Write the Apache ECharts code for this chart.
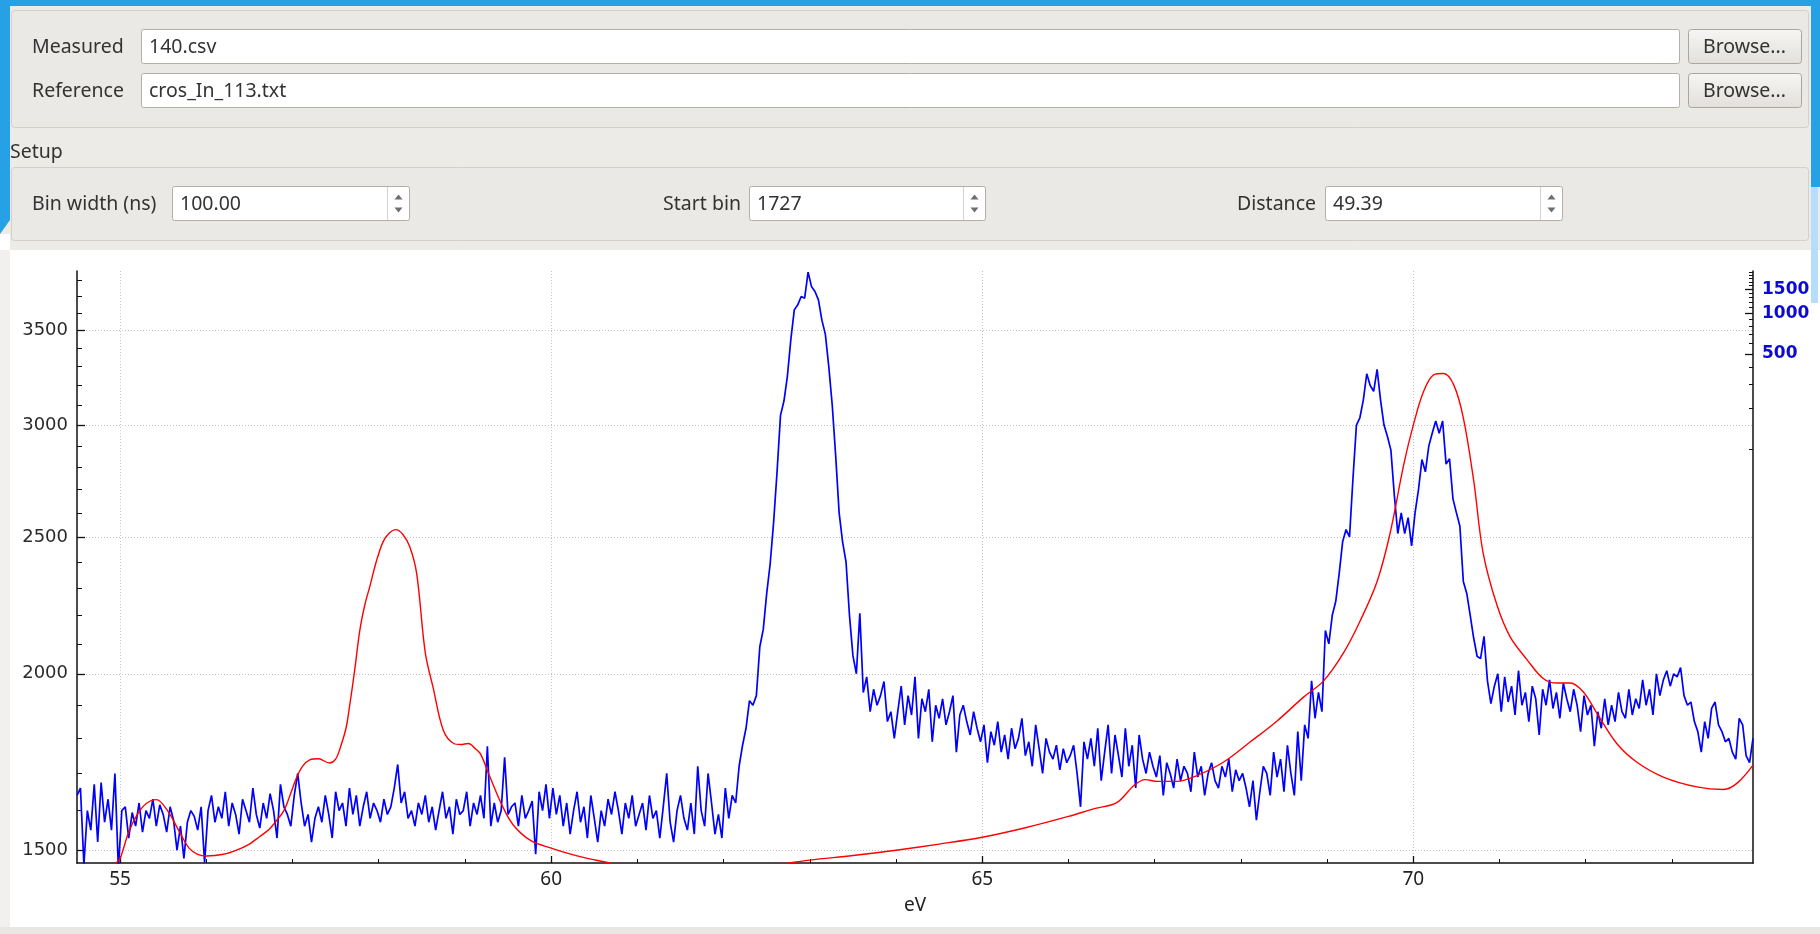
<!DOCTYPE html>
<html><head><meta charset="utf-8">
<script src="https://cdn.jsdelivr.net/npm/echarts@6/dist/echarts.min.js"></script>
<style>html,body{margin:0;padding:0;background:#ffffff;overflow:hidden;} #c{width:1820px;height:934px;}</style>
</head><body><div id="c"></div>
<script>
// ---------- DATA ----------
const blueStartEv = 54.50;
const blueStepEv = 0.04;
const blueCounts = [
1640,1660,1465,1600,1550,1670,1520,1675,1570,1630,1550,1700,1455,
1600,1610,1530,1595,1560,1620,1545,1600,1580,1630,1560,1615,1590,1545,1610,1575,1500,1560,1480,1570,1600,1585,1550,1610,1470,
1600,1640,1570,1610,1580,1650,1560,1620,1590,1540,1630,1600,1570,1660,1590,1555,1620,1580,1645,1600,1530,1670,1610,1590,1560,
1640,1700,1620,1560,1590,1520,1580,1610,1570,1640,1590,1530,1650,1600,1620,1560,1660,1590,1640,1560,1610,1650,1580,1620,1600,
1570,1630,1590,1610,1660,1725,1620,1650,1580,1600,1560,1620,1590,1640,1570,1610,1550,1600,1650,1580,1610,1540,1630,1590,1600,
1650,1560,1620,1590,1640,1580,1777,1560,1620,1570,1600,1745,1590,1610,1620,1560,1640,1580,1600,1625,1490,1650,1600,1670,1580,
1660,1590,1640,1560,1620,1540,1600,1650,1570,1610,1530,1640,1580,1520,1600,1560,1630,1590,1650,1600,1540,1620,1580,1640,1560,
1590,1620,1550,1640,1580,1600,1530,1610,1700,1570,1520,1600,1640,1580,1550,1620,1540,1720,1600,1560,1700,1620,1540,1590,1530,
1660,1580,1640,1620,1720,1780,1830,1914,1900,1930,2090,2150,2280,2392,2560,2780,3048,3120,3250,3450,3620,3650,3700,3690,3850,
3760,3730,3680,3560,3480,3300,3100,2854,2600,2480,2400,2200,2060,2000,2207,1940,1990,1880,1950,1900,1930,1975,1850,1880,1800,
1880,1960,1840,1930,1870,1990,1800,1920,1880,1950,1790,1900,1860,1920,1840,1880,1930,1760,1870,1900,1850,1810,1880,1830,1790,
1840,1730,1820,1780,1850,1760,1810,1740,1830,1770,1800,1860,1750,1790,1720,1840,1770,1700,1800,1760,1740,1780,1710,1770,1730,
1750,1780,1700,1610,1790,1740,1800,1720,1830,1680,1760,1840,1700,1810,1750,1690,1830,1720,1780,1660,1810,1740,1700,1760,1720,
1690,1750,1640,1730,1700,1660,1740,1680,1720,1700,1650,1760,1690,1720,1640,1700,1730,1680,1660,1720,1690,1740,1650,1710,1680,
1700,1660,1610,1680,1575,1650,1720,1700,1640,1760,1690,1740,1650,1780,1700,1640,1820,1680,1840,1800,1977,1860,1940,1880,2146,
2100,2200,2250,2355,2480,2530,2500,2750,3000,3036,3125,3262,3200,3170,3285,3125,3000,2945,2880,2675,2514,2600,2514,2580,2464,
2600,2700,2836,2780,2900,2962,3020,2960,3020,2815,2840,2660,2600,2545,2325,2280,2200,2120,2058,2050,2126,1977,1905,1960,2000,
1880,1990,1910,1960,1870,2010,1900,1940,1850,1960,1920,1810,1950,1900,1980,1890,1940,1860,1970,1920,1880,1950,1900,1820,1930,
1870,1900,1777,1880,1830,1920,1840,1900,1850,1940,1880,1860,1950,1870,1920,1890,1980,1900,1950,1870,2000,1930,1980,2010,1960,
2000,1990,2020,1930,1900,1910,1850,1820,1760,1850,1800,1890,1910,1840,1820,1790,1800,1760,1740,1860,1840,1750,1730,1800
];
const redEnergy = [54.85,54.95,55.0,55.1,55.2,55.3,55.42,55.55,55.69,55.8,55.9,56.0,56.2,56.35,56.5,56.62,56.72,56.81,56.9,56.97,57.05,57.12,57.2,57.3,57.43,57.5,57.55,57.62,57.66,57.72,57.78,57.84,57.9,57.97,58.05,58.12,58.2,58.28,58.36,58.44,58.54,58.63,58.75,58.87,58.95,59.04,59.12,59.18,59.29,59.43,59.56,59.76,60.0,60.3,60.68,61.0,61.5,62.0,62.31,62.7,63.0,63.5,64.0,64.5,65.0,65.5,66.0,66.3,66.56,66.76,66.89,67.03,67.26,67.49,67.8,68.11,68.42,68.73,68.96,69.19,69.38,69.58,69.73,69.89,70.0,70.12,70.24,70.35,70.47,70.58,70.7,70.81,70.97,71.12,71.32,71.51,71.67,71.82,71.97,72.13,72.36,72.59,72.9,73.29,73.6,73.76,73.94];
const redCounts = [1440,1468,1480,1545,1590,1618,1629,1600,1545,1505,1490,1486,1490,1500,1515,1534,1550,1573,1600,1640,1690,1721,1738,1741,1729,1740,1770,1830,1894,2010,2146,2240,2310,2400,2480,2515,2530,2510,2460,2355,2069,1956,1823,1785,1782,1785,1770,1755,1690,1614,1563,1524,1505,1486,1469,1455,1445,1450,1458,1467,1476,1487,1500,1515,1532,1556,1585,1605,1621,1667,1683,1678,1678,1694,1732,1790,1852,1926,1977,2069,2178,2325,2514,2815,3000,3170,3257,3263,3202,3036,2741,2435,2237,2126,2046,1984,1970,1970,1942,1875,1785,1732,1690,1663,1656,1674,1723];
const xLabelValues = [55, 60, 65, 70];
const xMinorTicks = [56,57,58,59,61,62,63,64,66,67,68,69,71,72,73];
const leftLabelValues = [1500, 2000, 2500, 3000, 3500];
const leftMinorTicks = [1600,1700,1800,1900,2100,2200,2300,2400,2600,2700,2800,2900,3100,3200,3300,3400,3600,3700,3800];
const rightLabelValues = [500, 1000, 1500];
const rightMinorTicks = [100,200,300,400,600,700,800,900,1100,1200,1300,1400,1600,1700,1800,1900,2000];
const fieldMeasured = '140.csv';
const fieldReference = 'cros_In_113.txt';
const binWidth = '100.00';
const startBin = '1727';
const distance = '49.39';

// ---------- BUILD ----------
const blueData = blueCounts.map((v, i) => [+(blueStartEv + i * blueStepEv).toFixed(2), v]);
const redData = redEnergy.map((e, i) => [e, redCounts[i]]);
const plainNum = v => String(Math.round(v));

const UIF = '"Noto Sans", "Open Sans", sans-serif';
const uiText = '#333333';
const g = [];
function rect(x, y, w, h, fill, stroke, r, z) {
  g.push({type: 'rect', z: z || 0, silent: true, shape: {x, y, width: w, height: h, r: r || 0},
    style: {fill: fill, stroke: stroke || null, lineWidth: 1}});
}
function text(x, y, s, opts) {
  g.push({type: 'text', z: 5, silent: true, x, y,
    style: Object.assign({text: s, fill: uiText, font: '19.5px ' + UIF, verticalAlign: 'middle', align: 'left'}, opts || {})});
}
function tri(cx, cy, up) {
  const pts = up ? [[cx - 4, cy + 2.5], [cx + 4, cy + 2.5], [cx, cy - 2.5]] : [[cx - 4, cy - 2.5], [cx + 4, cy - 2.5], [cx, cy + 2.5]];
  g.push({type: 'polygon', z: 6, silent: true, shape: {points: pts}, style: {fill: '#6e6e6e'}});
}
function spin(x, y, w, h, val) {
  rect(x + 0.5, y + 0.5, w, h, '#ffffff', '#b3aea6', 2, 2);
  g.push({type: 'line', z: 3, silent: true, shape: {x1: x + w - 21.5, y1: y + 1, x2: x + w - 21.5, y2: y + h}, style: {stroke: '#d6d2cc', lineWidth: 1}});
  tri(x + w - 10.5, y + 11, true);
  tri(x + w - 10.5, y + h - 10, false);
  text(x + 8, y + h / 2 + 1, val);
}
function button(x, y, w, h, label) {
  g.push({type: 'rect', z: 2, silent: true, shape: {x: x + 0.5, y: y + 0.5, width: w, height: h, r: 3},
    style: {fill: new echarts.graphic.LinearGradient(0, 0, 0, 1, [{offset: 0, color: '#f7f6f4'}, {offset: 1, color: '#e2dfdb'}]), stroke: '#aaa59e', lineWidth: 1}});
  text(x + w / 2, y + h / 2 + 1, label, {align: 'center'});
}
// window panel + frame
rect(0, 0, 1820, 250, '#ecebe8', null, 0, -5);
rect(0, 250, 10, 684, '#f1f0ee', null, 0, -5);
rect(0, 927, 1820, 7, '#e9e7e4', null, 0, -5);
rect(0, 0, 1820, 6, '#27a1e6', null, 0, -4);
g.push({type: 'polygon', z: -4, silent: true, shape: {points: [[0, 0], [10, 0], [10, 220], [0, 234]]}, style: {fill: '#27a1e6'}});
rect(0, 234, 10, 16, '#ffffff', null, 0, -4);
rect(1811, 0, 9, 187, '#27a1e6', null, 0, -4);
rect(1811, 187, 7, 116, '#b6defa', null, 0, -4);
// group boxes
rect(11.5, 10.5, 1797, 117, '#ebe9e5', '#d3cfc9', 3, 0);
rect(11.5, 167.5, 1797, 73, '#ebe9e5', '#d3cfc9', 3, 0);
// row 1
text(32, 47, 'Measured');
rect(141.5, 29.5, 1538, 34, '#ffffff', '#b3aea6', 2, 2);
text(149, 47, fieldMeasured);
button(1688, 29, 113, 34, 'Browse...');
// row 2
text(32, 91, 'Reference');
rect(141.5, 73.5, 1538, 34, '#ffffff', '#b3aea6', 2, 2);
text(149, 91, fieldReference);
button(1688, 73, 113, 34, 'Browse...');
// setup
text(10, 152, 'Setup');
text(32, 204, 'Bin width (ns)');
spin(172, 186, 237, 34, binWidth);
text(741, 204, 'Start bin', {align: 'right'});
spin(749, 186, 236, 34, startBin);
text(1316, 204, 'Distance', {align: 'right'});
spin(1325, 186, 237, 34, distance);

const gridLine = {show: true, lineStyle: {color: '#c2c2c2', type: [1, 2], width: 1}};
const xMin = 54.5, xMax = 73.94;
const yMin = 1469, yMax = 3857;
const rMin = 0.09, rMax = 2040;

const option = {
  backgroundColor: '#ffffff',
  animation: false,
  graphic: {elements: g},
  grid: {left: 77, right: 67, top: 271, bottom: 71, containLabel: false},
  xAxis: [
    {type: 'value', position: 'bottom', offset: 0, min: xMin, max: xMax,
     name: 'eV', nameLocation: 'middle', nameGap: 33,
     nameTextStyle: {fontFamily: UIF, fontSize: 19, color: '#222222'},
     axisLine: {show: true, onZero: false, lineStyle: {color: '#111111', width: 1.5}},
     axisTick: {show: true, inside: true, length: 7, customValues: xLabelValues, lineStyle: {color: '#111111', width: 1.3}},
     axisLabel: {show: true, customValues: xLabelValues, formatter: plainNum, margin: 7, fontFamily: UIF, fontSize: 19, color: '#222222'},
     splitLine: gridLine},
    {type: 'value', position: 'bottom', offset: 0, min: xMin, max: xMax,
     axisLine: {show: false}, axisLabel: {show: false}, splitLine: {show: false},
     axisTick: {show: true, inside: true, length: 4, customValues: xMinorTicks, lineStyle: {color: '#111111', width: 1}}}
  ],
  yAxis: [
    {type: 'log', position: 'left', offset: 0, min: yMin, max: yMax, logBase: 10,
     axisLine: {show: true, onZero: false, lineStyle: {color: '#111111', width: 1.5}},
     axisTick: {show: true, inside: true, length: 8, customValues: leftLabelValues, lineStyle: {color: '#111111', width: 1.3}},
     axisLabel: {show: true, customValues: leftLabelValues, formatter: plainNum, margin: 9, fontFamily: '"DejaVu Sans", sans-serif', fontSize: 18, color: '#2a2a2a'},
     splitLine: gridLine},
    {type: 'log', position: 'left', offset: 0, min: yMin, max: yMax, logBase: 10,
     axisLine: {show: false}, axisLabel: {show: false}, splitLine: {show: false},
     axisTick: {show: true, inside: true, length: 5, customValues: leftMinorTicks, lineStyle: {color: '#111111', width: 1}}},
    {type: 'log', position: 'right', offset: 0, min: rMin, max: rMax, logBase: 10,
     axisLine: {show: true, onZero: false, lineStyle: {color: '#111111', width: 1.5}},
     axisTick: {show: true, inside: true, length: 8, customValues: rightLabelValues, lineStyle: {color: '#111111', width: 1.3}},
     axisLabel: {show: true, customValues: rightLabelValues, formatter: plainNum, margin: 9, fontFamily: '"DejaVu Sans", sans-serif', fontWeight: 'bold', fontSize: 17, color: '#0a0ad2'},
     splitLine: {show: false}},
    {type: 'log', position: 'right', offset: 0, min: rMin, max: rMax, logBase: 10,
     axisLine: {show: false}, axisLabel: {show: false}, splitLine: {show: false},
     axisTick: {show: true, inside: true, length: 4, customValues: rightMinorTicks, lineStyle: {color: '#111111', width: 1}}}
  ],
  series: [
    {name: 'Measured', type: 'line', xAxisIndex: 0, yAxisIndex: 0, data: blueData, showSymbol: false, symbol: 'none',
     clip: true, lineStyle: {color: '#0000ff', width: 1.7}, z: 3},
    {name: 'Reference', type: 'line', xAxisIndex: 0, yAxisIndex: 0, data: redData, showSymbol: false, symbol: 'none',
     smooth: 0.35, clip: true, lineStyle: {color: '#ff0000', width: 1.4}, z: 4}
  ]
};
const chart = echarts.init(document.getElementById('c'), null, {renderer: 'canvas', width: 1820, height: 934});
chart.setOption(option);
</script>
</body></html>
